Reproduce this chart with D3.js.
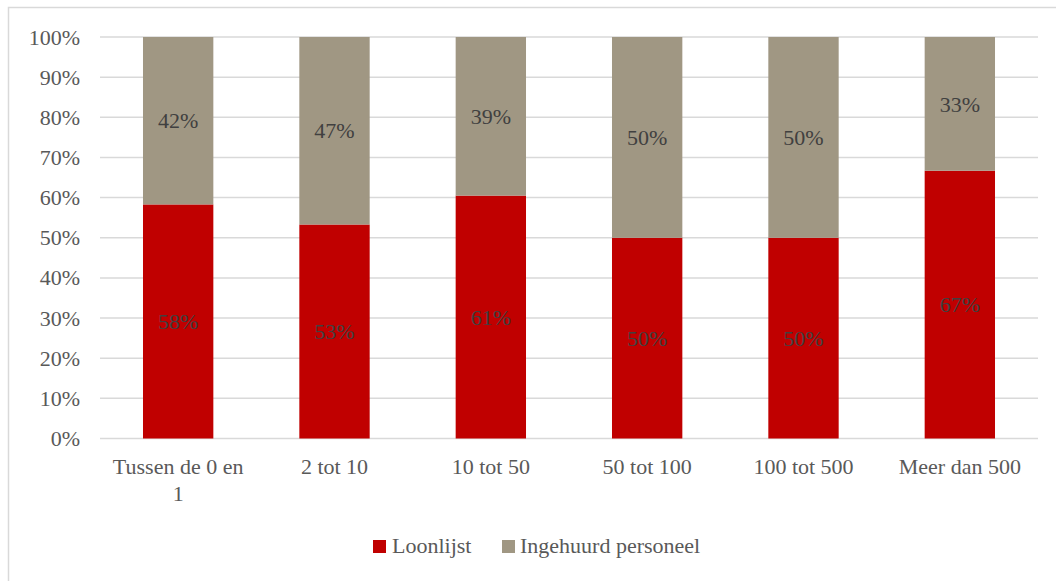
<!DOCTYPE html>
<html>
<head>
<meta charset="utf-8">
<script src="https://cdn.jsdelivr.net/npm/d3@7"></script>
<style>
  html, body { margin: 0; padding: 0; background: #fff; }
  svg { display: block; }
</style>
</head>
<body>
<svg id="chart" width="1056" height="581"></svg>
<script>
const categories = ["Tussen de 0 en 1", "2 tot 10", "10 tot 50", "50 tot 100", "100 tot 500", "Meer dan 500"];
const categoryLines = [["Tussen de 0 en", "1"], ["2 tot 10"], ["10 tot 50"], ["50 tot 100"], ["100 tot 500"], ["Meer dan 500"]];
const seriesNames = ["Loonlijst", "Ingehuurd personeel"];
const loonlijst = [0.583, 0.533, 0.605, 0.50, 0.50, 0.667];
const ingehuurd = [0.417, 0.467, 0.395, 0.50, 0.50, 0.333];
const loonlijstLabels = ["58%", "53%", "61%", "50%", "50%", "67%"];
const ingehuurdLabels = ["42%", "47%", "39%", "50%", "50%", "33%"];
const yTicks = [0, 0.1, 0.2, 0.3, 0.4, 0.5, 0.6, 0.7, 0.8, 0.9, 1.0];
const colors = ["#C00000", "#A09783"];

const FONT = "'Liberation Serif', 'Times New Roman', 'DejaVu Serif', serif";
const FS = "22px";
const svg = d3.select("#chart").style("font-family", FONT);

// outer frame
svg.append("rect")
  .attr("x", 8.5).attr("y", 7.5)
  .attr("width", 1100).attr("height", 700)
  .attr("fill", "none").attr("stroke", "#D9D9D9").attr("stroke-width", 1.5);

const plot = { left: 100, right: 1038, top: 37, bottom: 438.5 };

const x = d3.scaleBand().domain(categories).range([plot.left, plot.right]).paddingInner(0.55).paddingOuter(0.275);
const y = d3.scaleLinear().domain([0, 1]).range([plot.bottom, plot.top]);

// gridlines
svg.append("g").selectAll("line").data(yTicks).join("line")
  .attr("x1", plot.left).attr("x2", plot.right)
  .attr("y1", d => y(d)).attr("y2", d => y(d))
  .attr("stroke", "#D9D9D9").attr("stroke-width", 1.5);

// y axis labels
const yAxis = d3.axisLeft(y).tickValues(yTicks).tickFormat(d3.format(".0%")).tickSize(0).tickPadding(20);
const gy = svg.append("g").attr("transform", `translate(${plot.left},0)`).call(yAxis);
gy.attr("font-family", null).attr("font-size", null);
gy.select(".domain").remove();
gy.selectAll("text").style("font-family", FONT).style("font-size", FS).attr("fill", "#595959");

// stacked data
const rows = categories.map((c, i) => ({ cat: c, loon: loonlijst[i], inge: ingehuurd[i], i }));
const stack = d3.stack().keys(["loon", "inge"])(rows);

const layers = svg.append("g").selectAll("g").data(stack).join("g")
  .attr("fill", (d, i) => colors[i]);
layers.selectAll("rect").data(d => d).join("rect")
  .attr("x", d => x(d.data.cat))
  .attr("width", x.bandwidth())
  .attr("y", d => y(d[1]))
  .attr("height", d => y(d[0]) - y(d[1]));

// value labels
const labelSets = [loonlijstLabels, ingehuurdLabels];
stack.forEach((layer, li) => {
  svg.append("g").selectAll("text").data(layer).join("text")
    .attr("x", d => x(d.data.cat) + x.bandwidth() / 2)
    .attr("y", d => (y(d[0]) + y(d[1])) / 2)
    .attr("dy", "0.35em")
    .attr("text-anchor", "middle")
    .style("font-family", FONT).style("font-size", FS)
    .attr("fill", "#404040")
    .text(d => labelSets[li][d.data.i]);
});

// x axis labels
const gx = svg.append("g");
categories.forEach((c, i) => {
  const t = gx.append("text")
    .attr("x", x(c) + x.bandwidth() / 2)
    .attr("y", 474)
    .attr("text-anchor", "middle")
    .style("font-family", FONT).style("font-size", FS)
    .attr("fill", "#595959");
  categoryLines[i].forEach((line, j) => {
    t.append("tspan").attr("x", x(c) + x.bandwidth() / 2).attr("dy", j === 0 ? 0 : 27).text(line);
  });
});

// legend
const legendItems = [
  { name: seriesNames[0], color: colors[0], x: 373, tx: 392 },
  { name: seriesNames[1], color: colors[1], x: 502, tx: 520 }
];
const lg = svg.append("g");
legendItems.forEach(it => {
  lg.append("rect").attr("x", it.x).attr("y", 540).attr("width", 13).attr("height", 13).attr("fill", it.color);
  lg.append("text").attr("x", it.tx).attr("y", 553)
    .style("font-family", FONT).style("font-size", FS)
    .attr("fill", "#595959").text(it.name);
});
</script>
</body>
</html>
